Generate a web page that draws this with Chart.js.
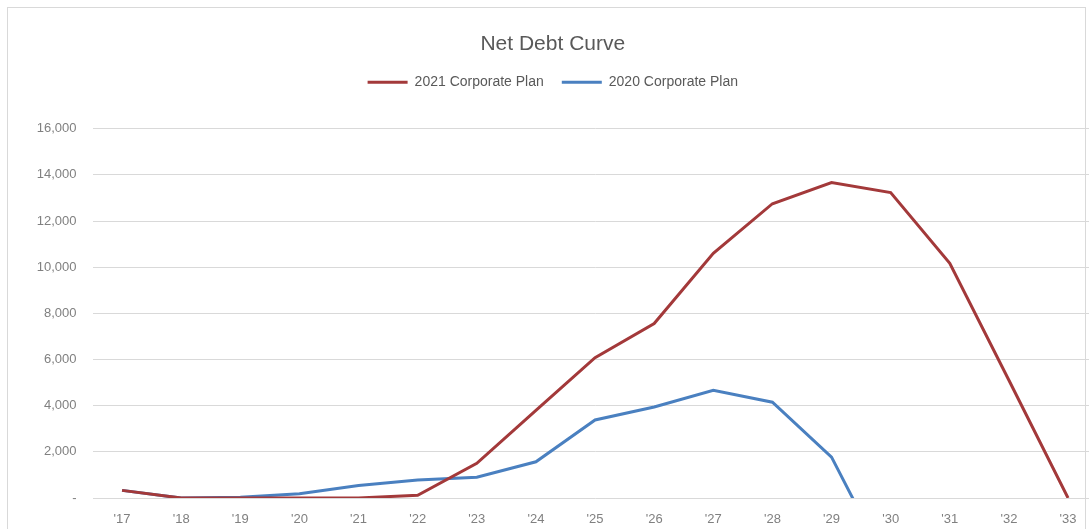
<!DOCTYPE html>
<html>
<head>
  <title>Net Debt Curve</title>
  <script src="https://cdn.jsdelivr.net/npm/chart.js"></script>
  <style>
    html, body { margin: 0; padding: 0; background: #fff; overflow: hidden; }
    #frame {
      position: absolute; left: 7px; top: 7px;
      width: 1077px; height: 560px;
      border: 1px solid #d9d9d9;
    }
    #netDebt { position: absolute; left: 8px; top: 8px; }
  </style>
</head>
<body>
  <div id="frame"></div>
  <canvas id="netDebt" width="1092" height="521"></canvas>
  <script>
    const years = ["'17", "'18", "'19", "'20", "'21", "'22", "'23", "'24", "'25",
                   "'26", "'27", "'28", "'29", "'30", "'31", "'32", "'33"];
    const plan2021 = [330, 0, 0, 0, 0, 120, 1500, 3800, 6080, 7560, 10600, 12750,
                      13670, 13230, 10170, 5100, 0];
    // 2020 plan turns negative after '29 (net cash), below the axis floor
    const plan2020 = [330, 0, 30, 180, 540, 780, 900, 1570, 3380, 3940, 4670, 4150,
                      1770, -3200, null, null, null];
    const yTicks = [0, 2000, 4000, 6000, 8000, 10000, 12000, 14000, 16000];

    const font = "'Liberation Sans', Arial, sans-serif";

    // push the plot area down below the legend
    const legendGap = {
      id: 'legendGap',
      beforeInit(chart) {
        const fit = chart.legend.fit;
        chart.legend.fit = function () {
          fit.bind(chart.legend)();
          this.height += 29.5;
        };
      }
    };

    const chartConfig = {
      type: 'line',
      data: {
        labels: years,
        datasets: [
          {
            label: '2021 Corporate Plan',
            data: plan2021,
            borderColor: '#a3393a',
            backgroundColor: '#a3393a',
            borderWidth: 3,
            pointRadius: 0,
            tension: 0
          },
          {
            label: '2020 Corporate Plan',
            data: plan2020,
            borderColor: '#4a80c0',
            backgroundColor: '#4a80c0',
            borderWidth: 3,
            pointRadius: 0,
            tension: 0
          }
        ]
      },
      options: {
        responsive: false,
        animation: false,
        layout: { padding: { left: 0, right: 2.4, top: 0, bottom: 0 } },
        plugins: {
          title: {
            display: true,
            text: 'Net Debt Curve',
            color: '#595959',
            font: { family: font, size: 21, weight: 'normal' },
            padding: { top: 24, bottom: 0 }
          },
          legend: {
            labels: {
              color: '#595959',
              font: { family: font, size: 14 },
              usePointStyle: true,
              pointStyle: 'line',
              pointStyleWidth: 40,
              padding: 18
            }
          },
          tooltip: { enabled: false }
        },
        scales: {
          x: {
            offset: true,
            grid: { display: false, drawTicks: false },
            border: { display: false },
            ticks: {
              color: '#808080',
              font: { family: font, size: 13 },
              padding: 14,
              maxRotation: 0,
              autoSkip: false
            },
            afterFit(scale) { scale.height = 31; }
          },
          y: {
            min: 0,
            max: 16000,
            grid: { color: '#d9d9d9', lineWidth: 1, drawTicks: false },
            border: { display: false },
            afterBuildTicks(scale) {
              scale.ticks = yTicks.map(v => ({ value: v }));
            },
            ticks: {
              color: '#808080',
              font: { family: font, size: 13 },
              padding: 16,
              callback: v => v === 0 ? '-' : v.toLocaleString('en-US')
            },
            afterFit(scale) { scale.width = 84.5; }
          }
        }
      },
      plugins: [legendGap]
    };

    const netDebtChart = new Chart(document.getElementById('netDebt'), chartConfig);
  </script>
</body>
</html>
